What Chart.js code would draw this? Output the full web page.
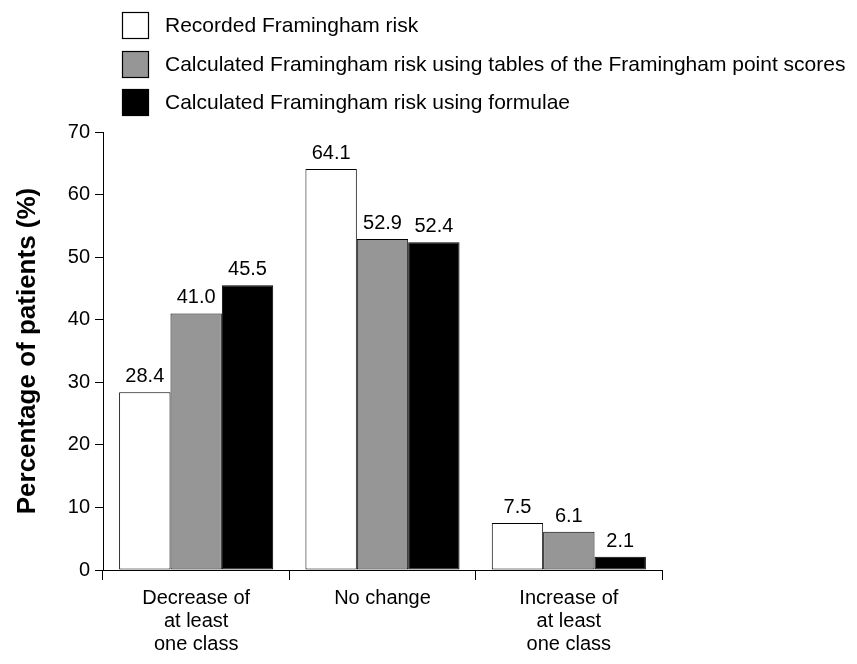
<!DOCTYPE html>
<html>
<head>
<meta charset="utf-8">
<script src="https://cdn.jsdelivr.net/npm/chart.js@4/dist/chart.umd.min.js"></script>
<style>
html,body{margin:0;padding:0;background:#fff;}
#wrap{width:857px;height:664px;position:relative;}
</style>
</head>
<body>
<div id="wrap"><canvas id="c" width="857" height="664"></canvas></div>
<script>
const categories = [["Decrease of","at least","one class"],["No change"],["Increase of","at least","one class"]];
const seriesNames = ["Recorded Framingham risk","Calculated Framingham risk using tables of the Framingham point scores","Calculated Framingham risk using formulae"];
const recorded = [28.4, 64.1, 7.5];
const tables = [41.0, 52.9, 6.1];
const formulae = [45.5, 52.4, 2.1];
const yTicks = [0,10,20,30,40,50,60,70];
const yTitle = "Percentage of patients (%)";

const FONT = "'Liberation Sans', Arial, sans-serif";
const colors = ["#ffffff","#969696","#000000"];

const labelPlugin = {
  id:'vals',
  afterDatasetsDraw(chart){
    const ctx = chart.ctx;
    ctx.save();
    ctx.font = "20px " + FONT;
    ctx.fillStyle = "#000";
    ctx.textAlign = "center";
    ctx.textBaseline = "alphabetic";
    chart.data.datasets.forEach((ds,i)=>{
      chart.getDatasetMeta(i).data.forEach((el,j)=>{
        ctx.fillText(ds.data[j].toFixed(1), el.x, el.y - 10);
      });
    });
    ctx.restore();
  }
};
const legendPlugin = {
  id:'leg',
  afterDraw(chart){
    const ctx = chart.ctx;
    ctx.save();
    ctx.font = "21px " + FONT;
    ctx.textBaseline = "middle";
    chart.data.datasets.forEach((ds,i)=>{
      const top = 12 + i*38.5;
      ctx.fillStyle = ds.backgroundColor;
      ctx.fillRect(122.5, Math.round(top)+0.5, 26, 26);
      ctx.strokeStyle = "#000";
      ctx.lineWidth = 1.2;
      ctx.strokeRect(122.5, Math.round(top)+0.5, 26, 26);
      ctx.fillStyle = "#000";
      ctx.fillText(ds.label, 165, Math.round(top) + 14);
    });
    ctx.restore();
  }
};

new Chart(document.getElementById('c'), {
  type:'bar',
  data:{
    labels: categories,
    datasets:[
      {label:seriesNames[0], data:recorded, backgroundColor:colors[0]},
      {label:seriesNames[1], data:tables, backgroundColor:colors[1]},
      {label:seriesNames[2], data:formulae, backgroundColor:colors[2]}
    ].map(d=>Object.assign(d,{borderColor:'#000',borderWidth:1,borderSkipped:false,categoryPercentage:0.827,barPercentage:1.0}))
  },
  options:{
    responsive:false,
    animation:false,
    devicePixelRatio:1,
    layout:{padding:{top:132,right:195,left:0,bottom:0}},
    plugins:{legend:{display:false},tooltip:{enabled:false}},
    scales:{
      x:{
        offset:true,
        grid:{display:true,offset:true,drawOnChartArea:false,tickLength:10,color:'#000',lineWidth:1},
        border:{display:true,color:'#000',width:1},
        ticks:{color:'#000',font:{family:FONT,size:20,lineHeight:1.15},padding:7,maxRotation:0,autoSkip:false},
        afterFit(s){ s.height = 94; }
      },
      y:{
        min:0,max:70,
        afterBuildTicks(s){ s.ticks = yTicks.map(v=>({value:v})); },
        grid:{display:true,drawOnChartArea:false,tickLength:8,color:'#000',lineWidth:1},
        border:{display:true,color:'#000',width:1},
        ticks:{color:'#000',font:{family:FONT,size:20},padding:5},
        title:{display:true,text:yTitle,color:'#000',font:{family:FONT,size:26,weight:'bold'},padding:{top:12,bottom:10}},
        afterFit(s){ s.width = 103; }
      }
    }
  },
  plugins:[labelPlugin, legendPlugin]
});
</script>
</body>
</html>
